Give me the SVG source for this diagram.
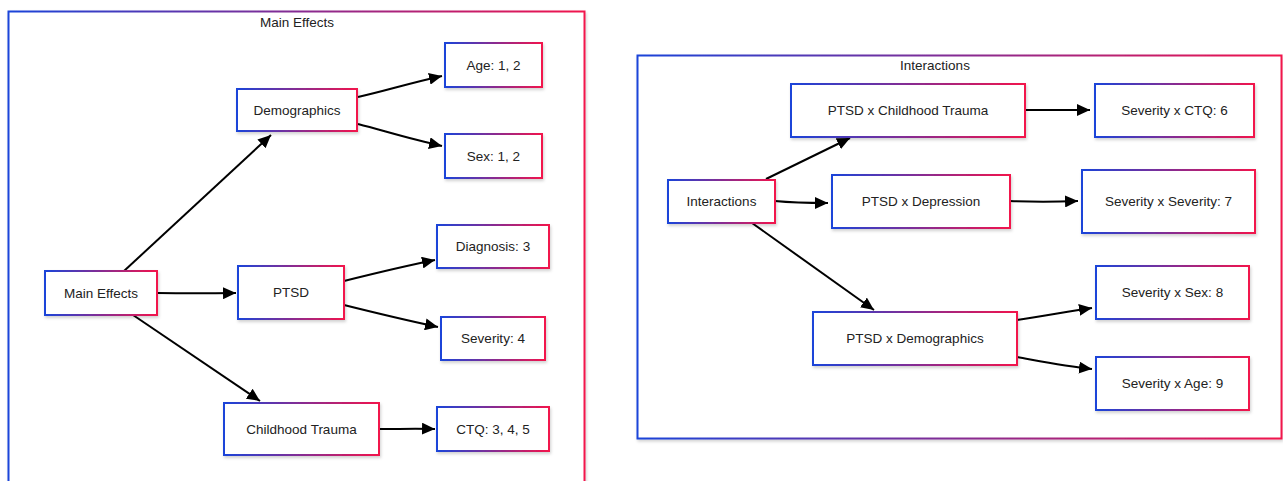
<svg xmlns="http://www.w3.org/2000/svg" width="1283" height="481" viewBox="0 0 1283 481">
<defs>
<linearGradient id="g" x1="0" y1="0" x2="1" y2="0">
<stop offset="0" stop-color="#1a44d9"/>
<stop offset="1" stop-color="#f2144c"/>
</linearGradient>
<filter id="sh" x="-10%" y="-10%" width="130%" height="140%">
<feDropShadow dx="1" dy="2" stdDeviation="1.5" flood-color="#000" flood-opacity="0.18"/>
</filter>
<marker id="arr" markerWidth="14" markerHeight="12" refX="13" refY="6" orient="auto" markerUnits="userSpaceOnUse">
<path d="M0,0 L13,6 L0,12 z" fill="#000"/>
</marker>
<style>
.cl{fill:#fff;stroke:url(#g);stroke-width:2;filter:url(#sh)}
.nd{fill:#fff;stroke:url(#g);stroke-width:2;filter:url(#sh)}
.t{font-family:"Liberation Sans",Arial,Helvetica,sans-serif;font-size:13.5px;fill:#222;text-anchor:middle;dominant-baseline:central}
.e{fill:none;stroke:#000;stroke-width:2;marker-end:url(#arr)}
</style>
</defs>
<rect width="1283" height="481" fill="#fff"/>
<g id="cluster-main">
<rect class="cl" x="8.5" y="11.5" width="576" height="480"/>
<text class="t" x="297" y="22">Main Effects</text>
</g>
<g id="cluster-interactions">
<rect class="cl" x="637.5" y="55.5" width="644" height="383"/>
<text class="t" x="935" y="65">Interactions</text>
</g>
<g id="connectors">
<path class="e" d="M124,271 L271,135"/>
<path class="e" d="M157,293 C185,293.5 205,293.5 236,293"/>
<path class="e" d="M133,315 L260,401"/>
<path class="e" d="M358,97 C385,91 410,83 442,76"/>
<path class="e" d="M358,124 C385,131 410,139 442,146"/>
<path class="e" d="M344,281 C372,274 400,267 435,260"/>
<path class="e" d="M344,305 C372,312 405,320 438,327"/>
<path class="e" d="M379,429 C400,429 415,428.5 435,429"/>
<path class="e" d="M766,179 L850,138"/>
<path class="e" d="M775,201 C795,203 805,203 828,203"/>
<path class="e" d="M752,223 L874,310"/>
<path class="e" d="M1025,110 L1090,110"/>
<path class="e" d="M1010,201 C1035,202 1050,202 1078,201"/>
<path class="e" d="M1017,320 C1045,316 1065,312 1092,308"/>
<path class="e" d="M1017,357 C1045,362 1065,366 1092,369"/>
</g>
<g id="n-main"><rect class="nd" x="45" y="271" width="112" height="44"/><text class="t" x="101" y="293">Main Effects</text></g>
<g id="n-demographics"><rect class="nd" x="237" y="89" width="120" height="42"/><text class="t" x="297" y="110">Demographics</text></g>
<g id="n-ptsd"><rect class="nd" x="238" y="266" width="106" height="53"/><text class="t" x="291" y="292.5">PTSD</text></g>
<g id="n-ct"><rect class="nd" x="224" y="403" width="155" height="52"/><text class="t" x="301.5" y="429">Childhood Trauma</text></g>
<g id="n-age"><rect class="nd" x="445" y="43" width="97" height="44"/><text class="t" x="493.5" y="65">Age: 1, 2</text></g>
<g id="n-sex"><rect class="nd" x="445" y="134" width="97" height="44"/><text class="t" x="493.5" y="156">Sex: 1, 2</text></g>
<g id="n-diagnosis"><rect class="nd" x="437" y="225" width="112" height="43"/><text class="t" x="493" y="246.5">Diagnosis: 3</text></g>
<g id="n-severity"><rect class="nd" x="441" y="317" width="104" height="43"/><text class="t" x="493" y="338.5">Severity: 4</text></g>
<g id="n-ctq"><rect class="nd" x="437" y="407" width="112" height="44"/><text class="t" x="493" y="429">CTQ: 3, 4, 5</text></g>
<g id="n-interactions"><rect class="nd" x="668" y="180" width="107" height="43"/><text class="t" x="721.5" y="201.5">Interactions</text></g>
<g id="n-ptsd-ct"><rect class="nd" x="791" y="84" width="234" height="53"/><text class="t" x="908" y="110.5">PTSD x Childhood Trauma</text></g>
<g id="n-ptsd-dep"><rect class="nd" x="832" y="175" width="178" height="53"/><text class="t" x="921" y="201.5">PTSD x Depression</text></g>
<g id="n-ptsd-demo"><rect class="nd" x="813" y="312" width="204" height="53"/><text class="t" x="915" y="338.5">PTSD x Demographics</text></g>
<g id="n-sev-ctq"><rect class="nd" x="1095" y="84" width="159" height="53"/><text class="t" x="1174.5" y="110.5">Severity x CTQ: 6</text></g>
<g id="n-sev-sev"><rect class="nd" x="1082" y="170" width="173" height="63"/><text class="t" x="1168.5" y="201.5">Severity x Severity: 7</text></g>
<g id="n-sev-sex"><rect class="nd" x="1096" y="266" width="153" height="53"/><text class="t" x="1172.5" y="292.5">Severity x Sex: 8</text></g>
<g id="n-sev-age"><rect class="nd" x="1096" y="357" width="153" height="53"/><text class="t" x="1172.5" y="383.5">Severity x Age: 9</text></g>
</svg>
